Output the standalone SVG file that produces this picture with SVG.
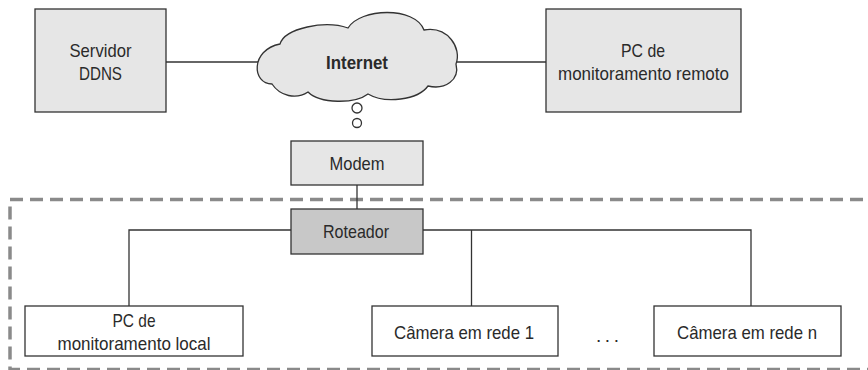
<svg xmlns="http://www.w3.org/2000/svg" width="868" height="370" viewBox="0 0 868 370">
<style>
.box{fill:#e6e6e6;stroke:#333;stroke-width:1.3}
.wbox{fill:#fff;stroke:#333;stroke-width:1.3}
.dark{fill:#c8c8c8;stroke:#333;stroke-width:1.3}
.ln{fill:none;stroke:#333;stroke-width:1.3}
text{font-family:"Liberation Sans",Arial,sans-serif;font-size:19px;fill:#2a2a2a;text-anchor:middle}
.b{font-weight:bold}
</style>
<rect width="868" height="370" fill="#fff"/>
<rect x="10" y="199.5" width="880" height="170" fill="none" stroke="#8a8a8a" stroke-width="3.5" stroke-dasharray="13 7"/>
<g id="connectors">
<line class="ln" x1="166" y1="62" x2="258" y2="62"/>
<line class="ln" x1="456" y1="62" x2="546" y2="62"/>
<line class="ln" x1="357" y1="185" x2="357" y2="209"/>
<polyline class="ln" points="291,230 129,230 129,306"/>
<polyline class="ln" points="423,230 751,230 751,306"/>
<line class="ln" x1="471.5" y1="230" x2="471.5" y2="306"/>
</g>
<g id="ddns">
<rect class="box" x="35" y="9" width="131" height="103"/>
<text x="100.5" y="57" textLength="62" lengthAdjust="spacingAndGlyphs">Servidor</text>
<text x="100.5" y="80" textLength="43" lengthAdjust="spacingAndGlyphs">DDNS</text>
</g>
<g id="internet">
<path class="box" d="M272,84 C252,84 250,50 280,44 C285,28 325,20 348,28 C360,8 415,6 424,30 C448,26 462,48 456,64 C460,80 445,90 428,86 C418,100 385,104 368,94 C355,104 320,104 308,92 C296,100 280,96 272,84 Z"/>
<text class="b" x="357" y="69" textLength="62" lengthAdjust="spacingAndGlyphs">Internet</text>
<circle cx="357" cy="108" r="5" fill="#fff" stroke="#333" stroke-width="1.3"/>
<circle cx="357" cy="123" r="4.5" fill="#fff" stroke="#333" stroke-width="1.3"/>
</g>
<g id="pc-remoto">
<rect class="box" x="546" y="9" width="195" height="103"/>
<text x="643" y="57" textLength="44" lengthAdjust="spacingAndGlyphs">PC de</text>
<text x="643.5" y="80" textLength="171" lengthAdjust="spacingAndGlyphs">monitoramento remoto</text>
</g>
<g id="modem">
<rect class="box" x="291" y="141" width="132" height="44"/>
<text x="357" y="170" textLength="55" lengthAdjust="spacingAndGlyphs">Modem</text>
</g>
<g id="roteador">
<rect class="dark" x="291" y="209" width="132" height="45"/>
<text x="356" y="238" textLength="66" lengthAdjust="spacingAndGlyphs">Roteador</text>
</g>
<g id="pc-local">
<rect class="wbox" x="25" y="306" width="218" height="50"/>
<text x="134" y="327" textLength="43" lengthAdjust="spacingAndGlyphs">PC de</text>
<text x="134" y="350" textLength="153" lengthAdjust="spacingAndGlyphs">monitoramento local</text>
</g>
<g id="camera-1">
<rect class="wbox" x="372" y="306" width="186" height="50"/>
<text x="464" y="339" textLength="140" lengthAdjust="spacingAndGlyphs">Câmera em rede 1</text>
</g>
<g id="ellipsis">
<text x="607.5" y="342" font-size="22" textLength="23" lengthAdjust="spacing">...</text>
</g>
<g id="camera-n">
<rect class="wbox" x="654" y="306" width="187" height="50"/>
<text x="747" y="339" textLength="140" lengthAdjust="spacingAndGlyphs">Câmera em rede n</text>
</g>
</svg>
